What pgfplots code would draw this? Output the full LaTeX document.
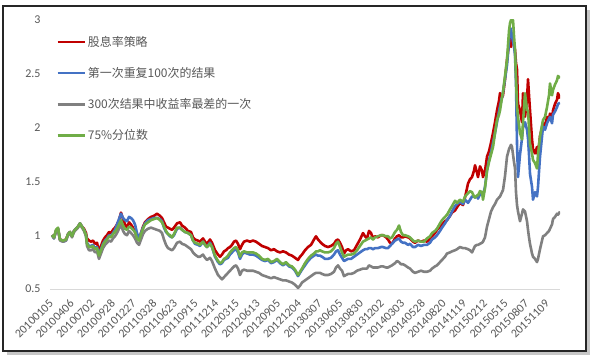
\documentclass[border=0pt]{standalone}
\usepackage{fontspec}
\setmainfont{Carlito}
\newfontfamily\cjk{Noto Sans CJK SC}
\usepackage{pgfplots}
\pgfplotsset{compat=1.18}
\usepackage{pgfplotstable}
\definecolor{cred}{HTML}{C00000}
\definecolor{cblue}{HTML}{4472C4}
\definecolor{cgray}{HTML}{808080}
\definecolor{cgreen}{HTML}{70AD47}
\definecolor{ctext}{HTML}{595959}
\definecolor{cgrid}{HTML}{D9D9D9}
\pgfplotstableread{
x red blue gray green
0 1.00 1.00 1.00 1.00
6 0.98 0.97 0.97 0.98
12 1.04 1.04 1.04 1.05
18 1.06 1.06 1.05 1.07
24 0.96 0.96 0.95 0.96
33 0.95 0.94 0.94 0.95
42 0.96 0.95 0.95 0.96
48 1.01 1.01 1.00 1.01
54 1.03 1.03 1.02 1.03
60 0.99 0.99 0.98 0.99
66 1.04 1.04 1.03 1.04
72 1.06 1.06 1.05 1.06
78 1.08 1.08 1.07 1.08
84 1.11 1.11 1.10 1.11
90 1.08 1.08 1.07 1.08
96 1.06 1.05 1.04 1.05
102 1.02 1.00 0.99 1.00
105 0.97 0.93 0.90 0.92
111 0.95 0.90 0.86 0.89
117 0.94 0.90 0.86 0.89
123 0.95 0.91 0.87 0.90
129 0.92 0.88 0.84 0.87
135 0.93 0.89 0.85 0.88
141 0.85 0.82 0.78 0.81
147 0.90 0.87 0.83 0.86
153 0.95 0.92 0.88 0.91
159 0.98 0.95 0.91 0.94
165 1.00 0.97 0.93 0.96
171 1.03 1.00 0.95 0.99
177 1.02 0.99 0.94 0.98
183 1.05 1.02 0.97 1.01
189 1.07 1.05 0.99 1.03
195 1.10 1.10 1.02 1.06
201 1.14 1.15 1.06 1.10
207 1.21 1.20 1.10 1.14
213 1.15 1.16 1.04 1.09
219 1.10 1.14 1.01 1.06
225 1.07 1.13 1.00 1.05
231 1.12 1.17 1.04 1.08
237 1.10 1.16 1.02 1.07
243 1.07 1.14 1.00 1.05
249 1.03 1.10 0.97 1.03
255 0.98 1.02 0.93 0.97
261 0.96 0.97 0.91 0.95
267 1.02 1.02 0.96 1.01
273 1.08 1.07 1.01 1.06
279 1.12 1.11 1.04 1.10
288 1.15 1.14 1.06 1.12
297 1.17 1.15 1.07 1.14
306 1.18 1.16 1.06 1.15
315 1.20 1.16 1.05 1.16
324 1.18 1.15 1.04 1.14
330 1.16 1.13 1.02 1.12
336 1.12 1.07 0.96 1.08
342 1.08 1.03 0.91 1.04
348 1.07 1.01 0.88 1.01
354 1.06 0.99 0.87 1.00
360 1.05 0.98 0.86 0.98
366 1.07 1.00 0.88 1.01
375 1.11 1.06 0.93 1.07
384 1.12 1.07 0.94 1.07
390 1.09 1.05 0.92 1.05
399 1.07 1.03 0.91 1.03
408 1.04 1.02 0.89 1.02
417 1.03 1.00 0.87 1.00
423 0.98 0.95 0.84 0.95
429 0.96 0.92 0.82 0.93
438 0.95 0.91 0.80 0.92
444 0.94 0.90 0.80 0.91
453 0.97 0.94 0.82 0.94
459 0.94 0.91 0.79 0.91
465 0.92 0.89 0.77 0.89
474 0.96 0.93 0.79 0.92
480 0.93 0.89 0.76 0.89
489 0.86 0.80 0.69 0.81
498 0.82 0.75 0.63 0.76
504 0.80 0.73 0.61 0.74
510 0.82 0.74 0.59 0.75
516 0.85 0.77 0.61 0.78
522 0.86 0.78 0.63 0.79
528 0.88 0.79 0.65 0.81
534 0.89 0.82 0.67 0.84
540 0.91 0.84 0.69 0.86
546 0.94 0.86 0.71 0.88
552 0.95 0.87 0.72 0.89
558 0.92 0.84 0.69 0.86
564 0.87 0.78 0.63 0.80
570 0.91 0.82 0.67 0.84
576 0.94 0.84 0.68 0.85
585 0.95 0.83 0.67 0.84
594 0.94 0.82 0.67 0.84
603 0.95 0.82 0.67 0.84
612 0.94 0.81 0.66 0.83
621 0.92 0.79 0.65 0.81
630 0.90 0.77 0.63 0.78
639 0.89 0.76 0.62 0.77
648 0.88 0.77 0.61 0.78
657 0.86 0.74 0.60 0.75
666 0.87 0.75 0.61 0.76
675 0.85 0.77 0.60 0.78
684 0.84 0.74 0.59 0.75
693 0.85 0.72 0.58 0.73
702 0.84 0.74 0.58 0.75
711 0.82 0.71 0.57 0.72
720 0.81 0.70 0.56 0.71
729 0.79 0.67 0.54 0.68
738 0.77 0.62 0.51 0.63
744 0.80 0.65 0.53 0.66
750 0.82 0.68 0.56 0.69
759 0.86 0.72 0.58 0.74
768 0.89 0.76 0.60 0.78
777 0.91 0.79 0.62 0.81
786 0.96 0.81 0.64 0.83
792 0.99 0.82 0.65 0.85
798 0.96 0.81 0.65 0.85
804 0.94 0.81 0.65 0.86
810 0.92 0.80 0.64 0.85
819 0.90 0.78 0.63 0.84
828 0.89 0.78 0.63 0.84
837 0.90 0.79 0.64 0.85
846 0.92 0.82 0.66 0.88
852 0.95 0.85 0.70 0.92
858 0.96 0.86 0.72 0.94
864 0.93 0.82 0.69 0.89
870 0.89 0.79 0.67 0.84
876 0.83 0.76 0.62 0.80
882 0.86 0.77 0.63 0.81
888 0.87 0.78 0.64 0.82
897 0.85 0.78 0.64 0.82
906 0.86 0.80 0.65 0.83
915 0.91 0.82 0.67 0.86
924 0.96 0.84 0.68 0.90
933 1.02 0.86 0.69 0.94
939 0.99 0.87 0.69 0.95
945 0.97 0.87 0.69 0.96
951 1.04 0.88 0.72 0.97
957 1.02 0.88 0.71 0.98
963 0.97 0.87 0.70 0.96
969 0.99 0.88 0.70 0.98
978 0.98 0.88 0.70 0.99
987 1.00 0.89 0.71 1.00
993 1.00 0.89 0.71 1.00
1002 0.98 0.88 0.70 0.99
1008 0.96 0.88 0.70 0.99
1014 0.93 0.90 0.71 0.97
1020 0.92 0.92 0.72 0.98
1029 0.97 0.95 0.74 1.03
1035 0.99 0.96 0.76 1.05
1041 1.00 0.97 0.75 1.09
1047 0.98 0.94 0.73 1.03
1053 0.98 0.93 0.73 1.00
1059 0.99 0.93 0.72 1.00
1068 0.98 0.91 0.70 0.99
1074 0.97 0.92 0.69 0.98
1083 0.94 0.89 0.66 0.95
1089 0.93 0.89 0.65 0.94
1098 0.95 0.91 0.66 0.95
1107 0.94 0.90 0.67 0.94
1116 0.95 0.91 0.66 0.94
1125 0.94 0.91 0.66 0.97
1134 0.97 0.93 0.67 0.99
1140 0.99 0.96 0.69 1.02
1149 1.02 0.98 0.71 1.04
1155 1.05 1.00 0.72 1.06
1164 1.08 1.04 0.75 1.11
1170 1.10 1.07 0.77 1.14
1179 1.13 1.11 0.80 1.17
1185 1.14 1.14 0.83 1.19
1194 1.18 1.18 0.84 1.24
1200 1.21 1.22 0.85 1.27
1209 1.23 1.27 0.86 1.32
1215 1.26 1.29 0.87 1.30
1224 1.30 1.31 0.89 1.33
1233 1.28 1.29 0.88 1.31
1239 1.35 1.33 0.88 1.36
1248 1.48 1.30 0.87 1.39
1254 1.52 1.33 0.86 1.41
1260 1.54 1.36 0.84 1.40
1266 1.60 1.36 0.88 1.36
1269 1.65 1.35 0.90 1.35
1275 1.58 1.36 0.91 1.37
1278 1.54 1.34 0.91 1.37
1284 1.64 1.38 0.92 1.41
1290 1.60 1.40 0.93 1.40
1293 1.54 1.37 0.94 1.33
1299 1.60 1.45 0.98 1.44
1305 1.73 1.60 1.08 1.60
1311 1.78 1.70 1.15 1.68
1317 1.86 1.77 1.22 1.75
1323 1.95 1.86 1.26 1.82
1329 2.05 1.95 1.29 1.95
1335 2.16 2.05 1.33 2.07
1341 2.25 2.15 1.35 2.12
1344 2.32 2.20 1.36 2.16
1350 2.28 2.28 1.40 2.28
1353 2.30 2.33 1.42 2.33
1359 2.45 2.45 1.55 2.48
1365 2.63 2.58 1.73 2.63
1371 2.78 2.80 1.80 2.90
1374 2.84 2.88 1.82 2.97
1377 2.75 2.92 1.84 3.00
1380 2.85 2.85 1.82 3.00
1383 2.80 2.80 1.75 3.00
1386 2.78 2.75 1.68 2.85
1389 2.72 2.68 1.62 2.72
1392 2.60 2.40 1.40 2.45
1395 2.54 1.85 1.28 2.20
1398 2.22 1.54 1.22 2.10
1404 2.16 1.75 1.13 1.95
1410 2.05 1.90 1.20 1.89
1413 2.32 2.00 1.24 2.05
1419 2.10 2.05 1.22 2.32
1425 2.26 1.98 1.13 2.16
1428 2.45 1.90 1.05 2.16
1431 2.30 1.75 0.98 2.00
1434 2.16 1.57 0.92 1.85
1440 1.89 1.45 0.83 1.76
1443 1.80 1.33 0.80 1.70
1449 1.76 1.40 0.78 1.67
1455 1.82 1.36 0.75 1.62
1458 1.75 1.45 0.78 1.75
1464 1.92 1.73 0.87 1.92
1473 2.04 2.01 0.99 2.07
1479 2.02 1.98 1.00 2.10
1485 2.10 2.04 1.02 2.19
1491 2.08 2.08 1.04 2.30
1494 2.13 2.10 1.06 2.41
1500 2.08 2.04 1.10 2.30
1503 2.16 2.12 1.15 2.35
1509 2.22 2.15 1.17 2.40
1515 2.26 2.19 1.20 2.44
1518 2.32 2.22 1.19 2.48
1524 2.27 2.23 1.22 2.46
}\data
\begin{document}
\begin{tikzpicture}[x=1bp,y=1bp]
\useasboundingbox (0,0) rectangle (595,357);
\fill[black!22] (7,2) rectangle (590,347);
\fill[white] (3,6) rectangle (586,351);
\draw[black!85, line width=1.2bp] (3,6) rectangle (586,351);
\begin{axis}[
  at={(50bp,68bp)}, anchor=south west,
  width=510bp, height=269bp, scale only axis,
  xmin=-6, xmax=1524, ymin=0.5, ymax=3,
  ytick={0.5,1,1.5,2,2.5,3},
  xtick={0,62,...,1488},
  xticklabels={20100105,20100406,20100702,20100928,20101227,20110328,20110623,20110915,20111214,20120315,20120613,20120905,20121204,20130307,20130605,20130830,20131202,20140303,20140528,20140820,20141119,20150212,20150515,20150807,20151109},
  axis x line*=bottom, axis y line*=left,
  x axis line style={cgrid, line width=0.8bp, -},
  y axis line style={draw=none},
  tick style={draw=none},
  ticklabel style={font=\fontsize{12}{14}\selectfont, text=ctext},
  /pgf/number format/assume math mode=true,
  yticklabel style={xshift=-6bp},
  xticklabel style={rotate=45, anchor=east, inner sep=1bp},
  xticklabel shift=12bp,
  legend style={at={(0.012,0.948)}, anchor=north west, draw=none, fill=none,
    font=\cjk\fontsize{12}{14}\selectfont, text=ctext, row sep=15.5bp, inner sep=0pt,
    nodes={inner sep=2bp}},
  legend cell align=left,
  legend image code/.code={\draw[#1] (0bp,0bp) -- (27bp,0bp);},
  every axis plot/.append style={line width=2.6bp, line join=round},
]
\addplot[cred] table[x=x,y=red]{\data};
\addlegendentry{股息率策略}
\addplot[cblue] table[x=x,y=blue]{\data};
\addlegendentry{第一次重复100次的结果}
\addplot[cgray] table[x=x,y=gray]{\data};
\addlegendentry{300次结果中收益率最差的一次}
\addplot[cgreen] table[x=x,y=green]{\data};
\addlegendentry{75\%分位数}
\end{axis}
\end{tikzpicture}
\end{document}
